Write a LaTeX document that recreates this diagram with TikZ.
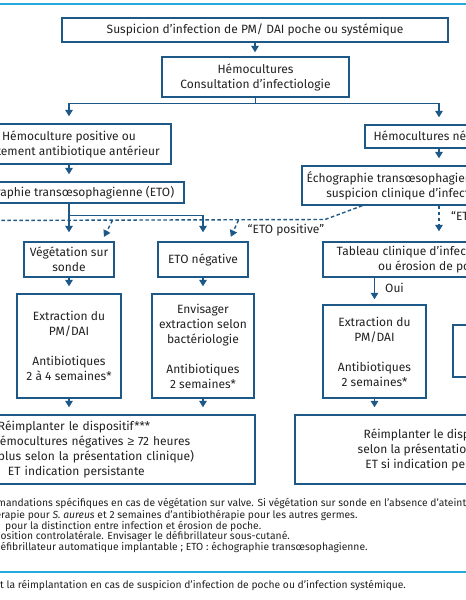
\documentclass[tikz,border=0pt]{standalone}
\usepackage{fontspec}
\setmainfont{Fira Sans}
\newfontfamily\symf{Liberation Sans}
\usetikzlibrary{arrows.meta,calc}
\definecolor{boxc}{RGB}{30,88,135}
\definecolor{txtc}{RGB}{34,34,34}
\definecolor{cyanl}{RGB}{40,168,222}
\newcommand\mainsz{\fontsize{12}{15}\selectfont}
\newcommand\notesz{\fontsize{10.3}{11}\selectfont}
\begin{document}
\begin{tikzpicture}[x=1pt,y=-1pt,
 box/.style={draw=boxc,line width=1.4pt,inner sep=0pt,align=center,text=txtc,font=\mainsz},
 lbl/.style={inner sep=0pt,text=txtc,font=\mainsz},
 note/.style={inner sep=0pt,text=txtc,font=\notesz,anchor=base west},
 link/.style={draw=boxc,line width=1.4pt},
 arr/.style={link,-{Triangle[length=6.5pt,width=7.5pt]},shorten >=7pt},
 darr/.style={arr,dash pattern=on 3.5pt off 2.5pt},
 dline/.style={link,dash pattern=on 3.5pt off 2.5pt},
]
\useasboundingbox (0,0) rectangle (466,600);
\clip (0,0) rectangle (466,600);
\fill[white] (0,0) rectangle (466,600);

% rules
\draw[cyanl,line width=1.3pt] (-5,4) -- (471,4);
\draw[cyanl,line width=1.3pt] (-5,572) -- (471,572);

% boxes
\node[box,minimum width=386pt,minimum height=24pt] (n1) at (255,30) {Suspicion d'infection de PM/ DAI poche ou systémique};
\node[box,minimum width=187pt,minimum height=40pt] (n2) at (255.5,77) {Hémocultures\\Consultation d'infectiologie};
\node[box,minimum width=204pt,minimum height=40pt] (n3) at (69,144) {Hémoculture positive ou\\traitement antibiotique antérieur};
\node[box,minimum width=230pt,minimum height=21pt] (n4) at (69,192.5) {Échographie transœsophagienne (ETO)};
\node[box,minimum width=90pt,minimum height=35pt] (n5) at (69,259.5) {Végétation sur\\sonde};
\node[box,minimum width=90pt,minimum height=35pt] (n6) at (203,259.5) {ETO négative};
\node[box,minimum width=104pt,minimum height=104pt] (n7) at (69,346) {Extraction du\\PM/DAI\\[15pt]Antibiotiques\\2 à 4 semaines*};
\node[box,minimum width=102pt,minimum height=104pt] (n8) at (203,346) {Envisager\\extraction selon\\bactériologie\\[15pt]Antibiotiques\\2 semaines*};
\node[box,minimum width=270pt,minimum height=69pt,text width=240pt,align=left] (n9) at (120,449.5) {\leavevmode\hspace*{-2pt}Réimplanter le dispositif***\\\leavevmode\llap{H}émocultures négatives {\symf≥} 72 heures\\\leavevmode\hspace*{-2pt}\llap{(ou }plus selon la présentation clinique)\\\leavevmode\hspace*{8pt}ET indication persistante};

\node[box,minimum width=148pt,minimum height=23pt] (n10) at (439,136.5) {Hémocultures négatives};
\node[box,minimum width=274pt,minimum height=39pt] (n11) at (439,185.5) {Échographie transœsophagienne (ETO) en cas de\\suspicion clinique d'infection systémique};
\node[box,minimum width=232pt,minimum height=35pt] (n12) at (439,259.5) {Tableau clinique d'infection de poche\\ou érosion de poche**};
\node[box,minimum width=103pt,minimum height=93pt] (n13) at (374.5,351.5) {Extraction du\\PM/DAI\\[15pt]Antibiotiques\\2 semaines*};
\node[box,minimum width=100pt,minimum height=52pt] (n14) at (503,351) {};
\node[box,minimum width=288pt,minimum height=69pt] (n15) at (439,449.5) {Réimplanter le dispositif***\\selon la présentation clinique\\ET si indication persistante};

% labels
\node[lbl] (lpos) at (286,230) {“ETO positive”};
\node[lbl,anchor=west] (lneg) at (451,217) {“ETO négative”};
\node[lbl,anchor=west] (loui) at (385,288) {Oui};

% connectors
\draw[arr,shorten >=4pt] (n1.south) -- (n1.south |- n2.north);
\draw[link] (n2.south) -- ++(0,6) coordinate (sp);
\draw[arr] (sp) -| (n3.north);
\draw[arr] (sp) -| (n10.north);
\draw[arr] (n3.south) -- (n3.south |- n4.north);
\draw[arr,shorten >=9pt] (n5.north |- n4.south) -- (n5.north);
\coordinate (br) at ($(n5.north |- n4.south)+(0,12)$);
\draw[arr,shorten >=9pt] (br) -| (n6.north);
\draw[arr] (n5.south) -- (n7.north);
\draw[arr] (n6.south) -- (n8.north);
\draw[arr] (n7.south) -- (n7.south |- n9.north);
\draw[arr] (n8.south) -- (n8.south |- n9.north);
\draw[arr] (n10.south) -- (n11.north);
\draw[darr,shorten >=10pt] (n11.south) -- (n12.north);
\draw[arr,shorten >=5pt] (n13.north |- n12.south) -- (n13.north);
\draw[arr] (n13.south) -- (n13.south |- n15.north);

% dashed ETO positive
\coordinate (dA) at ($(n11.south west)+(61,0)$);
\coordinate (dB) at (325,219.5);
\coordinate (dL) at (-20,220.5);
\draw[dline] (dA) -- (dB) -- (dL);
\coordinate (d1) at (112.5,220.3);
\draw[darr,shorten >=5pt] (d1) -- ($(n5.north east)+(-13,0)$);
\coordinate (d2) at (238.5,220.1);
\draw[darr,shorten >=5pt] (d2) -- ($(n6.north east)+(-20,0)$);

% notes
\node[note] (f1) at (-3,506) {\llap{* Recom}mandations spécifiques en cas de végétation sur valve. Si végétation sur sonde en l'absence d'ateinte valvulaire,};
\node[note] (f2) at (1,518.5) {\llap{4 semaines d'antibiothé}rapie pour \textit{S. aureus} et 2 semaines d'antibiothérapie pour les autres germes.};
\node[note] (f3) at (-1,529) {\llap{** Échographie utile}\hspace{6pt}pour la distinction entre infection et érosion de poche.};
\node[note] (f4) at (0.5,539.5) {\llap{*** Réimplantation en p}osition controlatérale. Envisager le défibrillateur sous-cutané.};
\node[note] (f5) at (0.5,550.5) {\llap{PM : pacemaker ; DAI : d}éfibrillateur automatique implantable ; ETO : échographie transœsophagienne.};
\node[note] (f6) at (0,588.5) {\llap{Prise en charge e}t la réimplantation en cas de suspicion d'infection de poche ou d'infection systémique.};
\end{tikzpicture}
\end{document}
